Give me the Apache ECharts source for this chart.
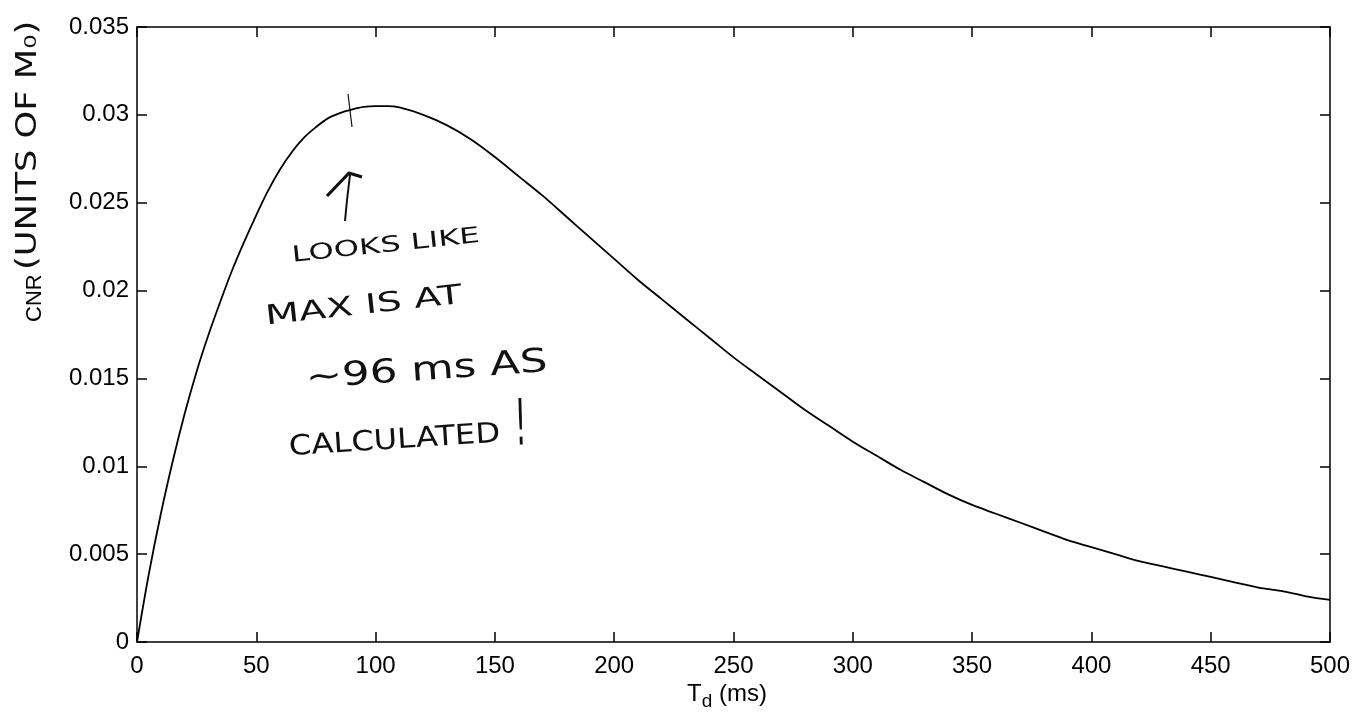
<!DOCTYPE html>
<html>
<head>
<meta charset="utf-8">
<title>CNR vs Td</title>
<script src="https://cdn.jsdelivr.net/npm/echarts@6/dist/echarts.min.js"></script>
<style>
  html, body { margin: 0; padding: 0; background: #fff; }
  #chart { width: 1354px; height: 720px; }
</style>
</head>
<body>
<div id="chart"></div>
<script>
// values
var tdMs = [0, 5, 10, 15, 20, 25, 30, 35, 40, 45, 50, 55, 60, 65, 70, 75, 80, 85, 90, 95, 100,
  105, 110, 120, 130, 140, 150, 160, 170, 180, 190, 200, 210, 220, 230, 240, 250, 260, 270,
  280, 290, 300, 310, 320, 330, 340, 350, 360, 370, 380, 390, 400, 410, 420, 430, 440, 450,
  460, 470, 480, 490, 500];
var cnr = [0, 0.0039, 0.0073, 0.0103, 0.0130, 0.0154, 0.0175, 0.0194, 0.0212, 0.0228, 0.0243,
  0.0257, 0.0269, 0.0279, 0.0287, 0.0293, 0.0298, 0.0301, 0.0303, 0.03045, 0.0305,
  0.0305, 0.03042, 0.0300, 0.0294, 0.0286, 0.0276, 0.0265, 0.0254, 0.0242, 0.0230, 0.0218,
  0.0206, 0.0195, 0.0184, 0.0173, 0.0162, 0.0152, 0.0142, 0.0132, 0.0123, 0.0114, 0.0106,
  0.0098, 0.0091, 0.0084, 0.0078, 0.0073, 0.0068, 0.0063, 0.0058, 0.0054, 0.0050, 0.0046,
  0.0043, 0.0040, 0.0037, 0.0034, 0.0031, 0.0029, 0.0026, 0.0024];
var xTicks = { min: 0, max: 500, step: 50 };
var yTicks = { min: 0, max: 0.035, step: 0.005 };
var noteLines = ["LOOKS LIKE", "MAX IS AT", "~96 ms AS", "CALCULATED", "!"];

var points = tdMs.map(function (t, i) { return [t, cnr[i]]; });

var font = "Liberation Sans";
var hand = "DejaVu Sans";
var ink = "#111";
var chart = echarts.init(document.getElementById("chart"));

var axisLineStyle = { color: "#000", width: 1.5 };
var tickStyle = { show: true, inside: true, length: 10, lineStyle: { color: "#000", width: 1.5 } };

// handwritten bits, placed by left-bottom corner
function note(text, x, y, size, sx, rot) {
  return {
    type: "text", x: x, y: y, rotation: rot, scaleX: sx,
    style: { text: text, fontFamily: hand, fontSize: size, fill: ink, verticalAlign: "bottom" }
  };
}

var option = {
  backgroundColor: "#fff",
  animation: false,
  grid: { left: 137, right: 24, top: 27, bottom: 78 },
  xAxis: [
    {
      type: "value",
      min: xTicks.min,
      max: xTicks.max,
      interval: xTicks.step,
      axisLine: { show: true, onZero: false, lineStyle: axisLineStyle },
      axisTick: tickStyle,
      splitLine: { show: false },
      axisLabel: { color: "#000", fontFamily: font, fontSize: 24, margin: 12 }
    },
    {
      type: "value",
      position: "top",
      min: xTicks.min,
      max: xTicks.max,
      interval: xTicks.step,
      axisLine: { show: true, onZero: false, lineStyle: axisLineStyle },
      axisTick: tickStyle,
      splitLine: { show: false },
      axisLabel: { show: false }
    }
  ],
  yAxis: [
    {
      type: "value",
      min: yTicks.min,
      max: yTicks.max,
      interval: yTicks.step,
      axisLine: { show: true, onZero: false, lineStyle: axisLineStyle },
      axisTick: tickStyle,
      splitLine: { show: false },
      axisLabel: { color: "#000", fontFamily: font, fontSize: 24, margin: 8 }
    },
    {
      type: "value",
      position: "right",
      min: yTicks.min,
      max: yTicks.max,
      interval: yTicks.step,
      axisLine: { show: true, onZero: false, lineStyle: axisLineStyle },
      axisTick: tickStyle,
      splitLine: { show: false },
      axisLabel: { show: false }
    }
  ],
  series: [
    {
      name: "CNR",
      type: "line",
      data: points,
      smooth: 0.35,
      showSymbol: false,
      lineStyle: { color: "#000", width: 1.8 }
    }
  ],
  graphic: [
    // axis titles
    {
      type: "text", x: 687, y: 678,
      style: {
        text: "{t|T}{s|d}{t| (ms)}",
        rich: {
          t: { fontFamily: font, fontSize: 24, fill: "#000" },
          s: { fontFamily: font, fontSize: 19, fill: "#000", padding: [14, 0, 0, 0] }
        }
      }
    },
    {
      type: "text", x: 35, y: 322, rotation: Math.PI / 2,
      style: { text: "CNR", fontFamily: font, fontSize: 22, fill: "#000", verticalAlign: "middle" }
    },
    {
      type: "text", x: 29, y: 270, rotation: Math.PI / 2, scaleX: 1.26,
      style: { text: "(UNITS OF M\u2080)", fontFamily: hand, fontSize: 28, fill: ink, verticalAlign: "middle" }
    },
    // handwritten note next to the peak
    note(noteLines[0], 293, 267, 22, 1.47, 0.105),
    note(noteLines[1], 267, 331, 27, 1.46, 0.11),
    note(noteLines[2], 307, 396, 33, 1.32, 0.07),
    note(noteLines[3], 290, 462, 28, 1.15, 0.065),
    note(noteLines[4], 516, 460, 64, 0.45, 0.03),
    {
      type: "polyline",
      shape: { points: [[345, 221], [347, 200], [350, 175]] },
      style: { stroke: ink, lineWidth: 2, fill: null }
    },
    {
      type: "polyline",
      shape: { points: [[327, 196], [349, 173], [362, 177]] },
      style: { stroke: ink, lineWidth: 3.2, fill: null, lineJoin: "round" }
    },
    {
      type: "line",
      shape: { x1: 348, y1: 94, x2: 352, y2: 127 },
      style: { stroke: ink, lineWidth: 1.2 }
    }
  ]
};

chart.setOption(option);
</script>
</body>
</html>
